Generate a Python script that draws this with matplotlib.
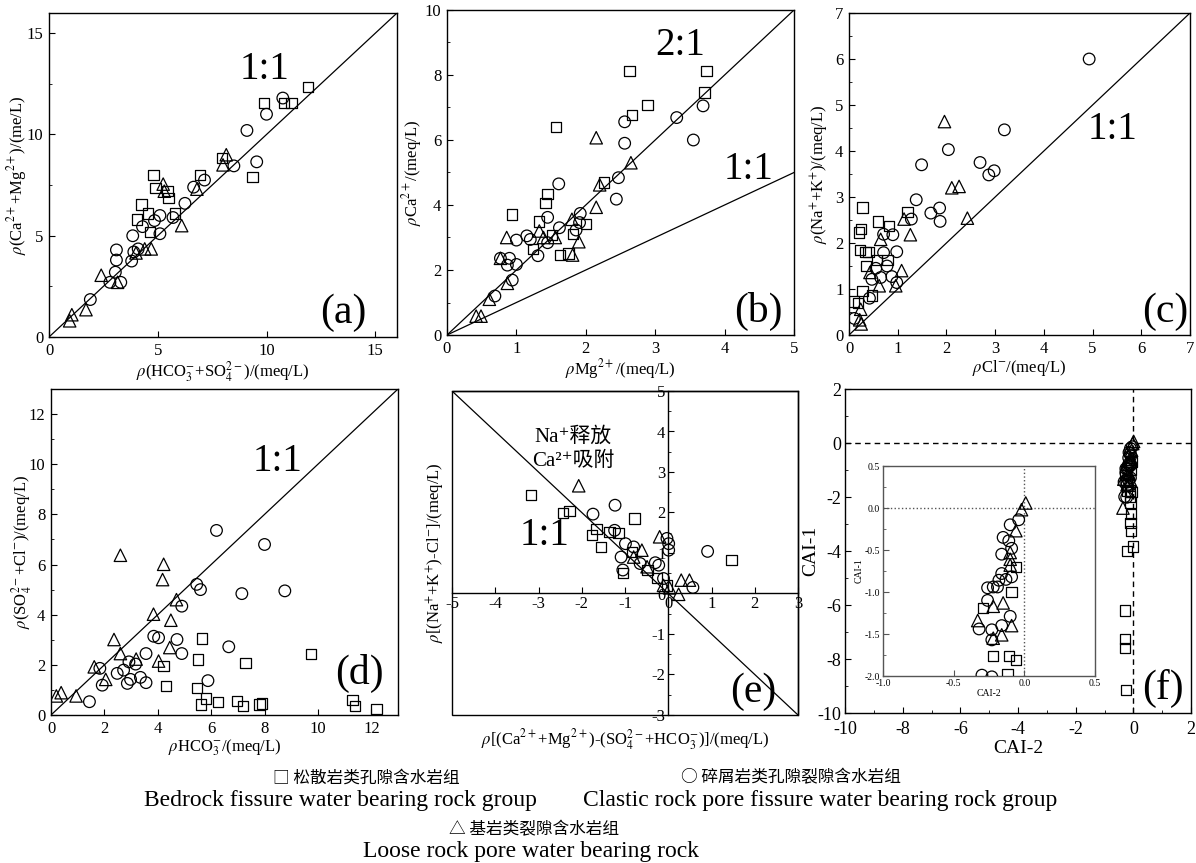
import matplotlib.pyplot as plt
from matplotlib.ticker import MultipleLocator, FormatStrFormatter
from matplotlib.patches import Rectangle

plt.rcParams['font.family'] = ['Liberation Serif', 'DejaVu Serif', 'Noto Sans CJK SC']
plt.rcParams['mathtext.fontset'] = 'stix'
plt.rcParams['axes.linewidth'] = 1.0
plt.rcParams['axes.unicode_minus'] = False

# (a) Ca+Mg vs HCO3+SO4
a_sq_x = [11.9, 9.9, 10.8, 11.15, 9.35, 7.95, 6.95, 4.8, 4.9, 5.45, 5.5, 4.25, 4.55, 4.05, 5.8, 4.65]
a_sq_y = [12.35, 11.55, 11.55, 11.55, 7.9, 8.85, 8.0, 8.0, 7.35, 7.2, 6.85, 6.55, 6.1, 5.8, 6.1, 5.2]
a_ci_x = [10.75, 10.0, 9.1, 9.55, 8.5, 7.15, 6.65, 6.25, 5.7, 5.1, 5.1, 4.85, 4.3, 3.85, 4.1, 3.9, 3.8, 3.1, 3.1, 3.05, 3.3, 2.8, 1.9]
a_ci_y = [11.8, 11.0, 10.2, 8.65, 8.45, 7.75, 7.4, 6.6, 5.9, 6.0, 5.1, 5.75, 5.45, 5.0, 4.35, 4.2, 3.75, 4.3, 3.8, 3.2, 2.7, 2.7, 1.85]
a_tr_x = [0.95, 1.05, 1.7, 2.4, 3.15, 4.4, 4.7, 4.0, 6.1, 6.8, 5.25, 8.0, 8.15, 5.3]
a_tr_y = [0.8, 1.1, 1.35, 3.05, 2.7, 4.35, 4.35, 4.15, 5.5, 7.3, 7.55, 8.5, 9.0, 7.2]

# (b) Ca vs Mg
b_sq_x = [2.63, 3.74, 3.71, 2.89, 2.67, 1.57, 2.26, 1.45, 1.42, 0.94, 1.33, 2.0, 1.51, 1.82, 1.24, 1.63, 1.75]
b_sq_y = [8.13, 8.13, 7.46, 7.07, 6.76, 6.39, 4.69, 4.33, 4.07, 3.71, 3.49, 3.41, 3.08, 3.1, 2.64, 2.46, 2.51]
b_ci_x = [3.69, 3.31, 2.56, 2.56, 3.55, 2.47, 2.44, 1.61, 1.45, 1.92, 1.91, 1.62, 1.86, 1.45, 1.15, 1.2, 1.0, 1.31, 0.77, 0.9, 0.87, 1.0, 0.94, 0.69]
b_ci_y = [7.05, 6.69, 6.56, 5.9, 6.0, 4.84, 4.18, 4.65, 3.62, 3.74, 3.46, 3.3, 3.23, 2.84, 3.05, 2.94, 2.92, 2.44, 2.36, 2.36, 2.15, 2.17, 1.69, 1.2]
b_tr_x = [2.15, 2.65, 2.2, 2.15, 1.8, 0.86, 1.33, 1.39, 1.56, 1.9, 1.81, 0.77, 0.87, 0.61, 0.42, 0.49]
b_tr_y = [6.07, 5.3, 4.62, 3.93, 3.56, 3.0, 3.2, 3.0, 3.0, 2.87, 2.46, 2.36, 1.59, 1.1, 0.58, 0.58]

# (c) Na+K vs Cl
c_sq_x = [0.28, 0.24, 0.2, 0.59, 1.2, 0.82, 0.22, 0.34, 0.4, 0.35, 0.57, 0.79, 0.28, 0.47, 0.1, 0.18]
c_sq_y = [2.77, 2.31, 2.23, 2.47, 2.67, 2.37, 1.85, 1.8, 1.81, 1.5, 1.63, 1.63, 0.96, 0.86, 0.73, 0.7]
c_ci_x = [4.93, 3.19, 2.04, 1.49, 2.69, 2.87, 2.98, 1.38, 1.68, 1.86, 1.87, 1.28, 0.9, 0.71, 0.98, 0.71, 0.78, 0.55, 0.47, 0.65, 0.88, 0.98, 0.42, 0.11]
c_ci_y = [6.0, 4.46, 4.03, 3.7, 3.75, 3.48, 3.57, 2.94, 2.65, 2.76, 2.47, 2.52, 2.18, 2.19, 1.81, 1.79, 1.5, 1.45, 1.21, 1.25, 1.27, 1.14, 0.8, 0.36]
c_tr_x = [1.96, 2.11, 2.26, 2.43, 1.13, 1.26, 0.65, 1.08, 0.96, 0.62, 0.43, 0.24, 0.22, 0.25]
c_tr_y = [4.64, 3.2, 3.23, 2.54, 2.52, 2.18, 2.08, 1.4, 1.07, 1.07, 1.36, 0.56, 0.33, 0.24]

# (d) SO4+Cl vs HCO3
d_sq_x = [5.67, 5.52, 7.29, 9.73, 4.22, 4.31, 5.46, 5.81, 5.61, 6.25, 6.97, 7.18, 7.81, 7.9, 11.3, 11.39, 12.19]
d_sq_y = [3.05, 2.21, 2.08, 2.43, 1.96, 1.17, 1.09, 0.66, 0.42, 0.53, 0.56, 0.37, 0.42, 0.46, 0.6, 0.37, 0.23]
d_ci_x = [6.2, 8.0, 8.76, 7.15, 5.46, 5.6, 4.9, 4.72, 3.85, 4.03, 3.56, 4.9, 6.66, 2.92, 3.17, 2.48, 2.72, 1.83, 1.92, 2.98, 2.86, 3.35, 3.56, 5.88, 1.44]
d_ci_y = [7.36, 6.8, 4.95, 4.84, 5.21, 5.0, 4.34, 3.01, 3.14, 3.08, 2.45, 2.45, 2.72, 2.12, 2.03, 1.66, 1.79, 1.86, 1.19, 1.42, 1.26, 1.5, 1.29, 1.37, 0.53]
d_tr_x = [2.6, 4.22, 4.18, 4.7, 4.49, 3.84, 2.36, 2.6, 3.19, 4.03, 4.45, 1.62, 2.05, 0.94, 0.38, 0.2]
d_tr_y = [6.37, 6.01, 5.4, 4.6, 3.78, 4.02, 3.01, 2.45, 2.23, 2.15, 2.69, 1.92, 1.42, 0.76, 0.89, 0.76]

# (e) cation exchange
e_sq_x = [-3.17, -2.43, -2.28, -0.78, 1.46, -1.76, -1.66, -1.55, -1.36, -1.15, -1.05, -0.84, -0.48, -0.26, -0.03]
e_sq_y = [2.44, 1.99, 2.03, 1.85, 0.82, 1.44, 1.6, 1.15, 1.52, 1.5, 0.51, 1.03, 0.58, 0.39, 0.2]
e_ci_x = [-1.23, -1.74, -1.24, -0.99, -0.8, -1.09, -1.05, -0.65, -0.3, -0.22, -0.03, 0.01, 0.01, 0.91, 0.57, -0.11]
e_ci_y = [2.18, 1.96, 1.56, 1.23, 1.15, 0.9, 0.58, 0.74, 0.76, 0.7, 1.36, 1.23, 1.07, 1.04, 0.15, 0.37]
e_tr_x = [-2.07, -0.2, -0.61, -0.8, -0.49, 0.3, 0.49, 0.24, 0.03, -0.11]
e_tr_y = [2.66, 1.4, 1.07, 0.9, 0.66, 0.33, 0.33, -0.02, 0.14, 0.2]

# (f) chloro-alkaline indices
f_sq_x = [-0.06, -0.09, -0.29, -0.22, -0.11, -0.06, -0.12, -0.1, -0.08, -0.1, -0.08, -0.01, -0.22, -0.28, -0.28, -0.28, -0.26]
f_sq_y = [-0.7, -1.0, -1.19, -1.76, -1.76, -1.81, -1.98, -2.2, -2.63, -2.96, -3.27, -3.83, -3.99, -6.2, -7.26, -7.6, -9.14]
f_ci_x = [-0.04, -0.1, -0.15, -0.11, -0.09, -0.16, -0.16, -0.13, -0.09, -0.18, -0.22, -0.26, -0.19, -0.26, -0.1, -0.16, -0.23, -0.32, -0.23, -0.3, -0.23]
f_ci_y = [-0.14, -0.2, -0.35, -0.39, -0.48, -0.55, -0.78, -0.85, -0.82, -0.86, -0.94, -0.95, -0.94, -1.1, -1.29, -1.4, -1.45, -1.44, -1.57, -1.99, -2.01]
f_tr_x = [0.01, -0.02, -0.06, -0.1, -0.1, -0.1, -0.15, -0.22, -0.33, -0.09, -0.16, -0.22, -0.36]
f_tr_y = [0.06, -0.02, -0.27, -0.53, -0.61, -0.68, -1.13, -1.17, -1.34, -1.4, -1.51, -1.55, -2.41]

W, H = 1196, 863
fig = plt.figure(figsize=(W / 100, H / 100), dpi=100)


def box(x0, y0, x1, y1):
    return [x0 / W, 1 - y1 / H, (x1 - x0) / W, (y1 - y0) / H]


def draw(ax, sx, sy, cx, cy, tx, ty):
    kw = dict(facecolors='none', edgecolors='black', linewidths=0.9, zorder=3)
    ax.scatter(sx, sy, marker='s', s=55, **kw)
    ax.scatter(cx, cy, marker='o', s=70, **kw)
    ax.scatter(tx, ty, marker='^', s=80, **kw)


def style(ax, xmaj, ymaj, xmin=None, ymin=None, size=12, pad=4):
    ax.xaxis.set_major_locator(MultipleLocator(xmaj))
    ax.yaxis.set_major_locator(MultipleLocator(ymaj))
    if xmin:
        ax.xaxis.set_minor_locator(MultipleLocator(xmin))
    if ymin:
        ax.yaxis.set_minor_locator(MultipleLocator(ymin))
    ax.tick_params(which='both', direction='in', labelsize=size, pad=pad)
    ax.tick_params(which='major', length=4)
    ax.tick_params(which='minor', length=2.5)


def labels(ax, xl, yl, xc, yc, size=12):
    ax.set_xlabel(xl, fontsize=size, va='center')
    ax.set_ylabel(yl, fontsize=size, va='center')
    ax.xaxis.set_label_coords(0.5, xc)
    ax.yaxis.set_label_coords(yc, 0.5)


ratio = 28
tag = 30

# (a)
ax = fig.add_axes(box(49, 13, 397, 337))
draw(ax, a_sq_x, a_sq_y, a_ci_x, a_ci_y, a_tr_x, a_tr_y)
ax.plot([0, 16], [0, 16], color='black', lw=0.9)
ax.set_xlim(0, 16)
ax.set_ylim(0, 16)
style(ax, 5, 5, ymin=2.5)
labels(ax, r'$\rho$(HCO$_3^{-}$+SO$_4^{2-}$)/(meq/L)', r'$\rho$(Ca$^{2+}$+Mg$^{2+}$)/(me/L)', -0.108, -0.092)
ax.text(9.9, 13.2, '1:1', fontsize=ratio, ha='center', va='center')
ax.text(0.845, 0.075, '(a)', fontsize=tag, ha='center', va='center', transform=ax.transAxes)

# (b)
ax = fig.add_axes(box(447, 10, 794, 335))
draw(ax, b_sq_x, b_sq_y, b_ci_x, b_ci_y, b_tr_x, b_tr_y)
ax.plot([0, 5], [0, 10], color='black', lw=0.9)
ax.plot([0, 5], [0, 5], color='black', lw=0.9)
ax.set_xlim(0, 5)
ax.set_ylim(0, 10)
style(ax, 1, 2, ymin=1)
labels(ax, r'$\rho$Mg$^{2+}$/(meq/L)', r'$\rho$Ca$^{2+}$/(meq/L)', -0.105, -0.102)
ax.text(3.36, 8.92, '2:1', fontsize=ratio, ha='center', va='center')
ax.text(4.35, 5.08, '1:1', fontsize=ratio, ha='center', va='center')
ax.text(0.896, 0.072, '(b)', fontsize=tag, ha='center', va='center', transform=ax.transAxes)

# (c)
ax = fig.add_axes(box(849, 13, 1190, 335))
draw(ax, c_sq_x, c_sq_y, c_ci_x, c_ci_y, c_tr_x, c_tr_y)
ax.plot([0, 7], [0, 7], color='black', lw=0.9)
ax.set_xlim(0, 7)
ax.set_ylim(0, 7)
style(ax, 1, 1, ymin=0.5)
labels(ax, r'$\rho$Cl$^{-}$/(meq/L)', r'$\rho$(Na$^{+}$+K$^{+}$)/(meq/L)', -0.102, -0.085)
ax.text(5.42, 4.46, '1:1', fontsize=ratio, ha='center', va='center')
ax.text(0.927, 0.072, '(c)', fontsize=tag, ha='center', va='center', transform=ax.transAxes)

# (d)
ax = fig.add_axes(box(51, 389, 398, 715))
draw(ax, d_sq_x, d_sq_y, d_ci_x, d_ci_y, d_tr_x, d_tr_y)
ax.plot([0, 13], [0, 13], color='black', lw=0.9)
ax.set_xlim(0, 13)
ax.set_ylim(0, 13)
style(ax, 2, 2, ymin=1)
labels(ax, r'$\rho$HCO$_3^{-}$/(meq/L)', r'$\rho$(SO$_4^{2-}$+Cl$^{-}$)/(meq/L)', -0.1, -0.085)
ax.text(8.5, 10.1, '1:1', fontsize=ratio, ha='center', va='center')
ax.text(0.89, 0.126, '(d)', fontsize=tag, ha='center', va='center', transform=ax.transAxes)

# (e)
ax = fig.add_axes(box(452, 391, 798, 715))
draw(ax, e_sq_x, e_sq_y, e_ci_x, e_ci_y, e_tr_x, e_tr_y)
ax.plot([-5, 3], [5, -3], color='black', lw=0.9)
ax.set_xlim(-5, 3)
ax.set_ylim(-3, 5)
ax.spines['left'].set_position(('data', 0))
ax.spines['bottom'].set_position(('data', 0))
ax.add_patch(Rectangle((0, 0), 1, 1, transform=ax.transAxes, fill=False,
                       lw=1.0, ec='black', clip_on=False))
style(ax, 1, 1, ymin=0.5, pad=2)
labels(ax, r'$\rho$[(Ca$^{2+}$+Mg$^{2+}$)-(SO$_4^{2-}$+HCO$_3^{-}$)]/(meq/L)',
       r'$\rho$[(Na$^{+}$+K$^{+}$)-Cl$^{-}$]/(meq/L)', -0.075, -0.047)
ax.text(-2.2, 3.86, 'Na⁺释放', fontsize=15, ha='center', va='center')
ax.text(-2.2, 3.27, 'Ca²⁺吸附', fontsize=15, ha='center', va='center')
ax.text(-2.85, 1.44, '1:1', fontsize=ratio, ha='center', va='center')
ax.text(0.87, 0.072, '(e)', fontsize=tag, ha='center', va='center', transform=ax.transAxes)

# (f)
ax = fig.add_axes(box(845, 389, 1191, 713))
draw(ax, f_sq_x, f_sq_y, f_ci_x, f_ci_y, f_tr_x, f_tr_y)
ax.axhline(0, color='black', ls='--', lw=1.0, dashes=(4, 3))
ax.axvline(0, color='black', ls='--', lw=1.0, dashes=(4, 3))
ax.set_xlim(-10, 2)
ax.set_ylim(-10, 2)
style(ax, 2, 2, xmin=1, ymin=1, size=13, pad=3)
ax.tick_params(axis='x', pad=6)
labels(ax, 'CAI-2', 'CAI-1', -0.11, -0.1, size=14)
ax.text(0.92, 0.077, '(f)', fontsize=tag, ha='center', va='center', transform=ax.transAxes)

# inset of (f)
ins = fig.add_axes(box(883, 466, 1095, 676))
draw(ins, f_sq_x, f_sq_y, f_ci_x, f_ci_y, f_tr_x, f_tr_y)
ins.axhline(0, color='#555555', ls=':', lw=1.0)
ins.axvline(0, color='#555555', ls=':', lw=1.0)
ins.set_xlim(-1, 0.5)
ins.set_ylim(-2, 0.5)
for sp in ins.spines.values():
    sp.set_color('#555555')
style(ins, 0.5, 0.5, ymin=0.25, size=7, pad=2)
ins.tick_params(which='both', colors='#555555', labelcolor='black')
ins.xaxis.set_major_formatter(FormatStrFormatter('%.1f'))
ins.yaxis.set_major_formatter(FormatStrFormatter('%.1f'))
ins.set_xlabel('CAI-2', fontsize=7, labelpad=1)
ins.set_ylabel('CAI-1', fontsize=7, labelpad=1)

# legend text
cjk = ['Noto Sans CJK SC', 'DejaVu Sans']
fig.text(366 / W, 1 - 778 / H, '□ 松散岩类孔隙含水岩组', family=cjk, fontsize=12, ha='center', va='center')
fig.text(340 / W, 1 - 800 / H, 'Bedrock fissure water bearing rock group', fontsize=17, ha='center', va='center')
fig.text(791 / W, 1 - 778 / H, '○ 碎屑岩类孔隙裂隙含水岩组', family=cjk, fontsize=12, ha='center', va='center')
fig.text(820 / W, 1 - 800 / H, 'Clastic rock pore fissure water bearing rock group', fontsize=17, ha='center', va='center')
fig.text(534 / W, 1 - 830 / H, '△ 基岩类裂隙含水岩组', family=cjk, fontsize=12, ha='center', va='center')
fig.text(531 / W, 1 - 851 / H, 'Loose rock pore water bearing rock', fontsize=17, ha='center', va='center')

fig.savefig('out.png', dpi=100, facecolor='white')
